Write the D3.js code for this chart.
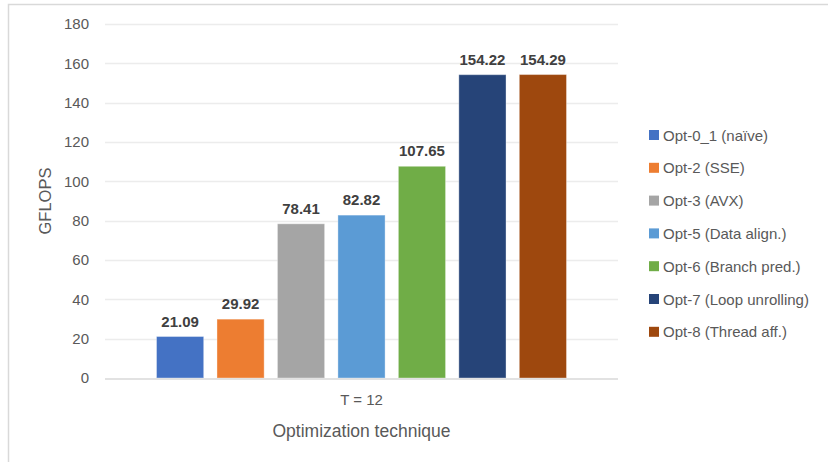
<!DOCTYPE html>
<html><head><meta charset="utf-8">
<script src="https://cdn.jsdelivr.net/npm/d3@7"></script>
<style>body{margin:0;background:#fff}svg{display:block}</style>
</head><body>
<script>
const categories = ["T = 12"];
const series = ["Opt-0_1 (naïve)","Opt-2 (SSE)","Opt-3 (AVX)","Opt-5 (Data align.)","Opt-6 (Branch pred.)","Opt-7 (Loop unrolling)","Opt-8 (Thread aff.)"];
const values = [21.09, 29.92, 78.41, 82.82, 107.65, 154.22, 154.29];
const colors = ["#4472C4","#ED7D31","#A5A5A5","#5B9BD5","#70AD47","#264478","#9E480E"];
const yTicks = [0,20,40,60,80,100,120,140,160,180];

const W=828,H=462;
const font="'Liberation Sans', Arial, sans-serif";
const svg=d3.select("body").append("svg").attr("width",W).attr("height",H);
svg.append("rect").attr("x",8.5).attr("y",4.5).attr("width",840).attr("height",480)
  .attr("fill","#fff").attr("stroke","#d9d9d9").attr("stroke-width",1.5);

const plot={l:105,r:618,t:24,b:378};
const y=d3.scaleLinear().domain([0,180]).range([plot.b,plot.t]);
const x0=d3.scaleBand().domain(categories).range([plot.l,plot.r]).paddingOuter(0.106).paddingInner(0);
const x1=d3.scaleBand().domain(series).range([0,x0.bandwidth()]).paddingInner(0.22).paddingOuter(0.11);

// gridlines
svg.append("g").selectAll("line").data(yTicks.filter(d=>d>0)).join("line")
  .attr("x1",plot.l).attr("x2",plot.r).attr("y1",d=>Math.round(y(d))+0.5).attr("y2",d=>Math.round(y(d))+0.5)
  .attr("stroke","#ececec").attr("stroke-width",1.3);

// y axis labels
const ya=svg.append("g").attr("transform",`translate(${plot.l},0)`)
  .call(d3.axisLeft(y).tickValues(yTicks).tickSize(0).tickPadding(16));
ya.select(".domain").remove();
ya.selectAll("text").attr("font-family",font).attr("font-size",15).attr("fill","#595959");

// bars
const g=svg.append("g").attr("transform",`translate(${x0(categories[0])},0)`);
g.selectAll("rect").data(values).join("rect")
  .attr("x",(d,i)=>x1(series[i])).attr("width",x1.bandwidth())
  .attr("y",d=>y(d)).attr("height",d=>y(0)-y(d))
  .attr("fill",(d,i)=>colors[i]).attr("stroke","#ffffff").attr("stroke-opacity",0.35).attr("stroke-width",1);
g.selectAll("text").data(values).join("text")
  .attr("x",(d,i)=>x1(series[i])+x1.bandwidth()/2).attr("y",d=>y(d)-10)
  .attr("text-anchor","middle").attr("font-family",font).attr("font-weight","bold")
  .attr("font-size",15).attr("fill","#404040").text(d=>d.toFixed(2));

// x axis line
svg.append("line").attr("x1",plot.l).attr("x2",plot.r).attr("y1",plot.b+1).attr("y2",plot.b+1)
  .attr("stroke","#d9d9d9").attr("stroke-width",1.5);
const xa=svg.append("g").attr("transform",`translate(0,${plot.b})`)
  .call(d3.axisBottom(x0).tickSize(0).tickPadding(16));
xa.select(".domain").remove();
xa.selectAll("text").attr("font-family",font).attr("font-size",15).attr("fill","#595959");

// axis titles
svg.append("text").attr("transform",`translate(51,201) rotate(-90)`).attr("text-anchor","middle")
  .attr("font-family",font).attr("font-size",16.5).attr("fill","#595959").text("GFLOPS");
svg.append("text").attr("x",(plot.l+plot.r)/2).attr("y",437).attr("text-anchor","middle")
  .attr("font-family",font).attr("font-size",17.5).attr("fill","#595959").text("Optimization technique");

// legend
const lg=svg.append("g").selectAll("g").data(series).join("g")
  .attr("transform",(d,i)=>`translate(649,${135+i*32.8})`);
lg.append("rect").attr("x",0).attr("y",-5).attr("width",10).attr("height",10).attr("fill",(d,i)=>colors[i]);
lg.append("text").attr("x",14).attr("y",5.5).attr("font-family",font).attr("font-size",15)
  .attr("fill","#595959").text(d=>d);
</script>
</body></html>
